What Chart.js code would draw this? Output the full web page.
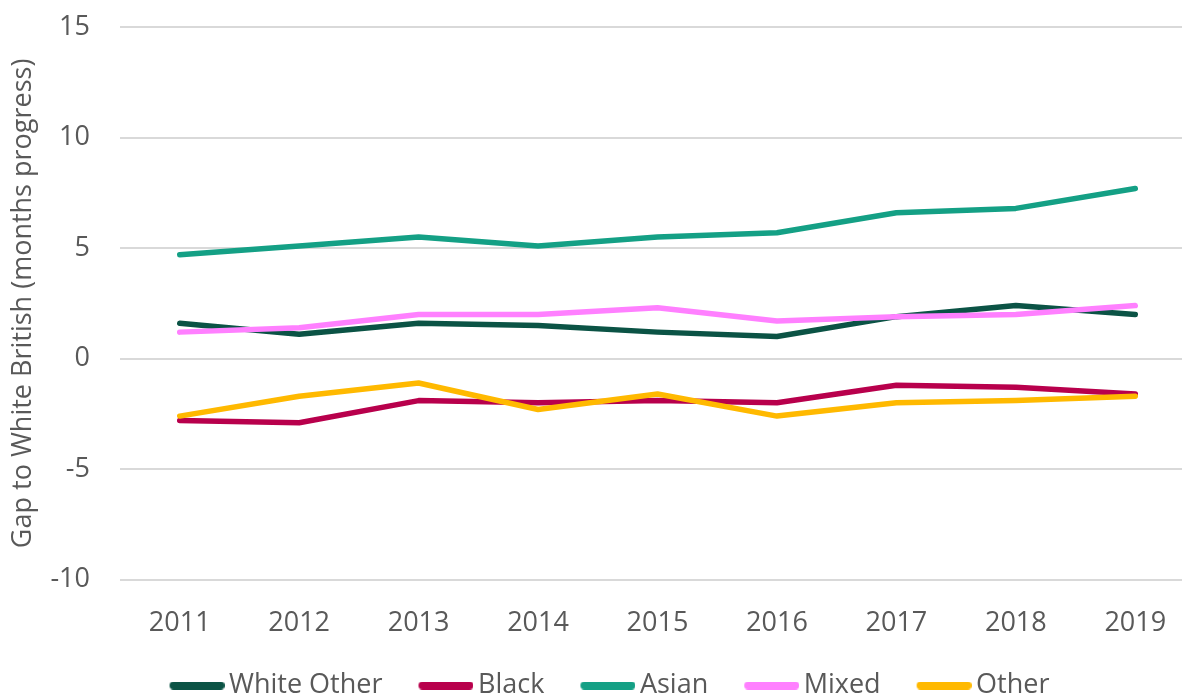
<!DOCTYPE html>
<html>
<head>
<meta charset="utf-8">
<script src="https://cdn.jsdelivr.net/npm/chart.js@4"></script>
<style>
  html, body { margin: 0; padding: 0; background: #fff; overflow: hidden; width: 1182px; height: 697px; }
  #wrap { width: 1195px; height: 728px; margin-top: -19px; }
</style>
</head>
<body>
<div id="wrap"><canvas id="gapChart"></canvas></div>
<script>
// Gap to White British by ethnic group, 2011-2019
const years = ['2011', '2012', '2013', '2014', '2015', '2016', '2017', '2018', '2019'];
const whiteOther = [1.6, 1.1, 1.6, 1.5, 1.2, 1.0, 1.9, 2.4, 2.0];
const black = [-2.8, -2.9, -1.9, -2.0, -1.9, -2.0, -1.2, -1.3, -1.6];
const asian = [4.7, 5.1, 5.5, 5.1, 5.5, 5.7, 6.6, 6.8, 7.7];
const mixed = [1.2, 1.4, 2.0, 2.0, 2.3, 1.7, 1.9, 2.0, 2.4];
const other = [-2.6, -1.7, -1.1, -2.3, -1.6, -2.6, -2.0, -1.9, -1.7];

const seriesNames = ['White Other', 'Black', 'Asian', 'Mixed', 'Other'];
const seriesData = [whiteOther, black, asian, mixed, other];
const seriesColors = ['#0b5345', '#b8004c', '#14a085', '#ff80ff', '#ffb900'];

const textColor = '#595959';
const fontFamily = '"Open Sans", sans-serif';

// legend swatch: legend reserves swatchSlot px, the image is a bit wider so the
// bar sits close to its text, with blank space in front of it
const swatchSlot = 70;
const swatchImg = 88;
const swatchBar = 55;
function makeSwatch(color) {
    const c = document.createElement('canvas');
    c.width = swatchImg;
    c.height = 8;
    const g = c.getContext('2d');
    g.fillStyle = color;
    g.beginPath();
    g.roundRect(swatchImg - swatchBar, 0, swatchBar, 8, 4);
    g.fill();
    return c;
}

const datasets = seriesNames.map(function (name, i) {
    return {
        label: name,
        data: seriesData[i],
        borderColor: seriesColors[i],
        backgroundColor: seriesColors[i],
        borderWidth: 5.5,
        borderCapStyle: 'round',
        borderJoinStyle: 'round',
        pointRadius: 0,
        pointStyle: makeSwatch(seriesColors[i]),
        tension: 0,
        // later series drawn on top, like the original
        order: seriesNames.length - i
    };
});

new Chart(document.getElementById('gapChart'), {
    type: 'line',
    data: { labels: years, datasets: datasets },
    options: {
        responsive: true,
        maintainAspectRatio: false,
        animation: false,
        layout: { padding: { top: -10, left: 0, right: 0, bottom: 0 } },
        plugins: {
            tooltip: { enabled: false },
            legend: {
                position: 'bottom',
                labels: {
                    color: textColor,
                    font: { family: fontFamily, size: 27 },
                    usePointStyle: true,
                    pointStyleWidth: swatchSlot,
                    boxHeight: 8,
                    padding: 12,
                    sort: function (a, b) { return a.datasetIndex - b.datasetIndex; }
                }
            }
        },
        scales: {
            x: {
                offset: true,
                grid: { display: false },
                border: { display: false },
                ticks: {
                    color: textColor,
                    font: { family: fontFamily, size: 27 },
                    padding: 20
                }
            },
            y: {
                min: -10,
                max: 15,
                afterFit: function (scale) { scale.width = 120; },
                grid: { color: '#d9d9d9', lineWidth: 2, drawTicks: false },
                border: { display: false },
                ticks: {
                    stepSize: 5,
                    color: textColor,
                    font: { family: fontFamily, size: 27 },
                    padding: 30
                },
                title: {
                    display: true,
                    text: 'Gap to White British (months progress)',
                    color: textColor,
                    font: { family: fontFamily, size: 27 },
                    padding: { top: 7, bottom: 0 }
                }
            }
        }
    }
});
</script>
</body>
</html>
